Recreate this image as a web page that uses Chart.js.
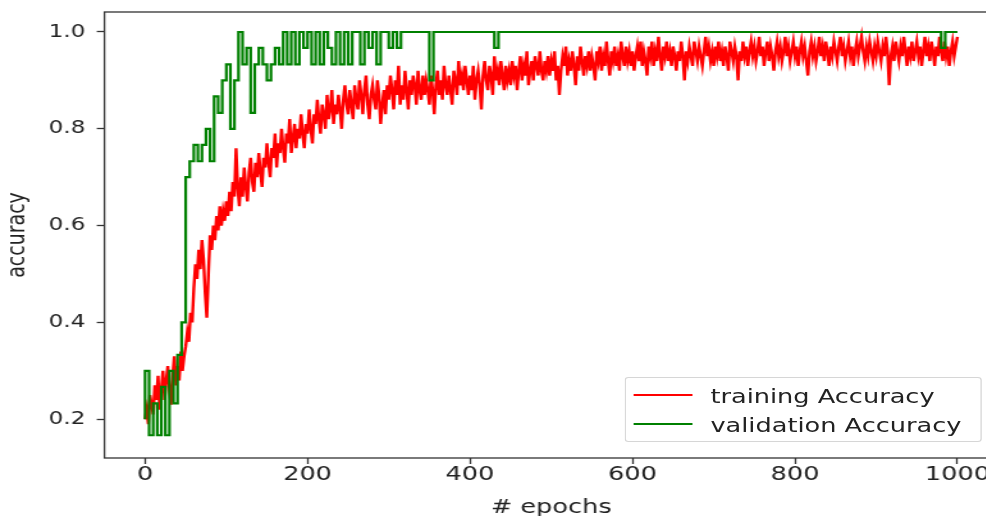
<!DOCTYPE html>
<html>
<head>
<meta charset="utf-8">
<script src="https://cdn.jsdelivr.net/npm/chart.js@4.4.1/dist/chart.umd.min.js"></script>
<style>
html, body { margin: 0; padding: 0; background: #fff; overflow: hidden; width: 986px; height: 516px; }
#stage { position: absolute; left: 0; top: 0; width: 781px; height: 516px; transform: scaleX(1.28); transform-origin: 0 0; }
canvas { display: block; }
.legend { position: absolute; left: 488px; top: 377px; width: 277px; height: 63px; border: 1px solid #d6d6d6; border-radius: 3px;
  background: rgba(255,255,255,0.8); font-family: "DejaVu Sans"; font-size: 20px; line-height: 20px; color: #222; }
.legend .handle { position: absolute; left: 6px; width: 46px; height: 2px; }
.legend .label { position: absolute; left: 66px; white-space: nowrap; }
</style>
</head>
<body>
<div id="stage">
  <canvas id="chart" width="781" height="516"></canvas>
  <div class="legend">
    <div class="handle" style="top:16px;background:#ff0000"></div>
    <div class="label" style="top:8px">training Accuracy</div>
    <div class="handle" style="top:45px;background:#008000"></div>
    <div class="label" style="top:37px">validation Accuracy</div>
  </div>
</div>
<script>
// training accuracy read every 2 epochs, validation every 5 epochs
const trainStep = 2
const valStep = 5

const trainAcc = [
  0.20,0.22,0.19,0.25,0.23,0.21,0.27,0.24,0.29,0.22,0.26,0.30,0.24,0.28,0.31,0.26,0.23,0.29,0.33,0.27,0.31,0.28,0.34,0.30,0.33,
  0.35,0.38,0.36,0.42,0.40,0.47,0.52,0.49,0.55,0.51,0.57,0.53,0.46,0.41,0.50,0.58,0.55,0.60,0.57,0.62,0.59,0.64,0.60,0.63,0.61,
  0.65,0.62,0.67,0.63,0.69,0.66,0.76,0.68,0.64,0.70,0.66,0.72,0.68,0.65,0.71,0.74,0.69,0.67,0.73,0.70,0.75,0.71,0.68,0.74,0.72,
  0.77,0.73,0.70,0.76,0.74,0.79,0.72,0.77,0.75,0.80,0.76,0.73,0.79,0.77,0.82,0.75,0.78,0.81,0.76,0.80,0.78,0.83,0.79,0.76,0.81,
  0.79,0.84,0.80,0.77,0.83,0.81,0.86,0.82,0.79,0.85,0.83,0.80,0.87,0.82,0.84,0.88,0.81,0.85,0.83,0.87,0.84,0.80,0.86,0.89,0.85,
  0.83,0.88,0.85,0.82,0.89,0.86,0.84,0.90,0.87,0.83,0.88,0.91,0.85,0.82,0.87,0.89,0.86,0.84,0.90,0.87,0.81,0.85,0.88,0.83,0.89,
  0.86,0.91,0.88,0.84,0.90,0.87,0.93,0.85,0.89,0.86,0.92,0.88,0.84,0.90,0.87,0.91,0.89,0.85,0.92,0.88,0.86,0.91,0.87,0.90,0.88,
  0.85,0.91,0.88,0.83,0.89,0.92,0.87,0.90,0.86,0.93,0.89,0.87,0.91,0.88,0.85,0.92,0.90,0.87,0.94,0.89,0.91,0.88,0.93,0.90,0.87,
  0.91,0.88,0.93,0.86,0.90,0.92,0.89,0.84,0.91,0.94,0.90,0.88,0.93,0.91,0.87,0.95,0.90,0.92,0.89,0.94,0.91,0.88,0.93,0.90,0.92,
  0.89,0.94,0.91,0.93,0.88,0.92,0.95,0.90,0.93,0.91,0.96,0.89,0.92,0.94,0.90,0.95,0.93,0.91,0.96,0.92,0.90,0.94,0.92,0.95,0.91,
  0.94,0.92,0.96,0.90,0.93,0.87,0.92,0.95,0.93,0.97,0.91,0.94,0.92,0.96,0.93,0.89,0.95,0.92,0.97,0.94,0.91,0.95,0.93,0.96,0.92,
  0.95,0.93,0.90,0.96,0.94,0.97,0.92,0.95,0.93,0.98,0.94,0.91,0.96,0.94,0.97,0.93,0.95,0.92,0.98,0.95,0.93,0.97,0.94,0.96,0.93,
  0.96,0.92,0.95,0.97,0.94,0.98,0.93,0.96,0.94,0.91,0.97,0.95,0.98,0.93,0.96,0.94,0.99,0.95,0.92,0.97,0.95,0.98,0.94,0.96,0.93,
  0.97,0.95,0.92,0.96,0.94,0.98,0.95,0.90,0.96,0.94,0.97,0.95,0.93,0.98,0.96,0.94,0.97,0.95,0.93,0.96,0.99,0.95,0.97,0.94,0.96,
  0.93,0.97,0.95,0.98,0.94,0.96,0.93,0.97,0.95,0.92,0.98,0.96,0.94,0.97,0.95,0.90,0.96,0.94,0.98,0.95,0.97,0.93,0.96,0.98,0.95,
  0.97,0.94,0.96,0.99,0.95,0.97,0.93,0.96,0.98,0.94,0.97,0.95,0.92,0.96,0.98,0.95,0.97,0.94,0.96,0.99,0.95,0.97,0.94,0.96,0.98,
  0.95,0.97,0.93,0.96,0.98,0.95,0.97,0.94,0.91,0.96,0.98,0.95,0.97,0.94,0.96,0.99,0.95,0.97,0.94,0.98,0.96,0.93,0.97,0.95,0.98,
  0.96,0.94,0.97,0.99,0.95,0.97,0.94,0.96,0.98,0.95,0.97,0.93,0.96,0.98,0.95,0.97,0.99,0.96,0.94,0.97,0.95,0.98,0.96,0.94,0.97,
  0.95,0.98,0.96,0.94,0.97,0.95,0.99,0.96,0.89,0.95,0.97,0.94,0.98,0.96,0.94,0.97,0.95,0.99,0.96,0.93,0.97,0.95,0.98,0.94,0.96,
  0.98,0.95,0.97,0.93,0.96,0.99,0.95,0.97,0.94,0.98,0.96,0.93,0.97,0.95,0.99,0.96,0.94,0.98,0.95,0.97,0.93,0.96,0.98,0.95,0.97,
  0.99
]

const valAcc = [
  0.200,0.300,0.167,0.233,0.167,0.267,0.167,0.300,0.233,0.333,
  0.400,0.700,0.733,0.767,0.733,0.767,0.800,0.733,0.867,0.833,
  0.900,0.933,0.800,0.900,1.000,0.933,0.967,0.833,0.933,0.967,
  0.933,0.900,0.933,0.967,0.933,1.000,0.933,1.000,0.933,1.000,
  0.967,1.000,0.933,1.000,0.933,1.000,0.967,0.933,1.000,0.933,
  1.000,0.933,1.000,1.000,0.933,1.000,0.967,1.000,0.933,1.000,
  1.000,0.967,1.000,0.967,1.000,1.000,1.000,1.000,1.000,1.000,
  1.000,0.900,1.000,1.000,1.000,1.000,1.000,1.000,1.000,1.000,
  1.000,1.000,1.000,1.000,1.000,1.000,1.000,0.967,1.000,1.000,
  1.000,1.000,1.000,1.000,1.000,1.000,1.000,1.000,1.000,1.000,
  1.000,1.000,1.000,1.000,1.000,1.000,1.000,1.000,1.000,1.000,
  1.000,1.000,1.000,1.000,1.000,1.000,1.000,1.000,1.000,1.000,
  1.000,1.000,1.000,1.000,1.000,1.000,1.000,1.000,1.000,1.000,
  1.000,1.000,1.000,1.000,1.000,1.000,1.000,1.000,1.000,1.000,
  1.000,1.000,1.000,1.000,1.000,1.000,1.000,1.000,1.000,1.000,
  1.000,1.000,1.000,1.000,1.000,1.000,1.000,1.000,1.000,1.000,
  1.000,1.000,1.000,1.000,1.000,1.000,1.000,1.000,1.000,1.000,
  1.000,1.000,1.000,1.000,1.000,1.000,1.000,1.000,1.000,1.000,
  1.000,1.000,1.000,1.000,1.000,1.000,1.000,1.000,1.000,1.000,
  1.000,1.000,1.000,1.000,1.000,1.000,1.000,0.967,1.000,1.000,
  1.000
]

const xTicks = [0, 200, 400, 600, 800, 1000]
const yTicks = [0.2, 0.4, 0.6, 0.8, 1.0]

const toPoints = (arr, step) => arr.map((v, i) => ({x: i * step, y: v}))

const frame = {
  id: 'frame',
  afterDatasetsDraw(chart) {
    const {ctx, chartArea: a} = chart
    ctx.save()
    ctx.strokeStyle = '#333'
    ctx.lineWidth = 1.3
    ctx.strokeRect(a.left, a.top, a.right - a.left, a.bottom - a.top)
    ctx.restore()
  }
}

const noPad = (s) => { s.paddingTop = 0; s.paddingBottom = 0; s.paddingLeft = 0; s.paddingRight = 0 }

new Chart(document.getElementById('chart'), {
  type: 'line',
  data: {
    datasets: [
      {label: 'training Accuracy', data: toPoints(trainAcc, trainStep), borderColor: '#ff0000', borderWidth: 2.4, pointRadius: 0, tension: 0, order: 2},
      {label: 'validation Accuracy', data: toPoints(valAcc, valStep), borderColor: '#008000', borderWidth: 2.2, pointRadius: 0, stepped: 'after', order: 1}
    ]
  },
  options: {
    responsive: false,
    animation: false,
    devicePixelRatio: 1,
    layout: {padding: {left: 0, right: 1.3, top: 12, bottom: 0}},
    plugins: {legend: {display: false}, tooltip: {enabled: false}},
    scales: {
      x: {
        type: 'linear', min: -50, max: 1050,
        afterFit: (s) => { s.height = 58; noPad(s) },
        afterBuildTicks: (s) => { s.ticks = xTicks.map(v => ({value: v})) },
        grid: {drawOnChartArea: false, tickLength: 6, tickWidth: 1.3, tickColor: '#333'},
        border: {display: false},
        ticks: {autoSkip: false, maxRotation: 0, padding: 1, color: '#222', font: {family: 'DejaVu Sans', size: 20, lineHeight: 1}, callback: (v) => String(v)},
        title: {display: true, text: '# epochs', color: '#222', font: {family: 'DejaVu Sans', size: 20, lineHeight: 1}, padding: {top: 0, bottom: -2}}
      },
      y: {
        min: 0.12, max: 1.0413,
        afterFit: (s) => { s.width = 81.6; noPad(s) },
        afterBuildTicks: (s) => { s.ticks = yTicks.map(v => ({value: v})) },
        grid: {drawOnChartArea: false, tickLength: 6, tickWidth: 1.3, tickColor: '#333'},
        border: {display: false},
        ticks: {autoSkip: false, padding: 9, color: '#222', font: {family: 'DejaVu Sans', size: 18}, callback: (v) => v.toFixed(1)},
        title: {display: true, text: 'accuracy', color: '#222', font: {family: 'DejaVu Sans', size: 19}, padding: {top: 3, bottom: 0}}
      }
    }
  },
  plugins: [frame]
})
</script>
</body>
</html>
